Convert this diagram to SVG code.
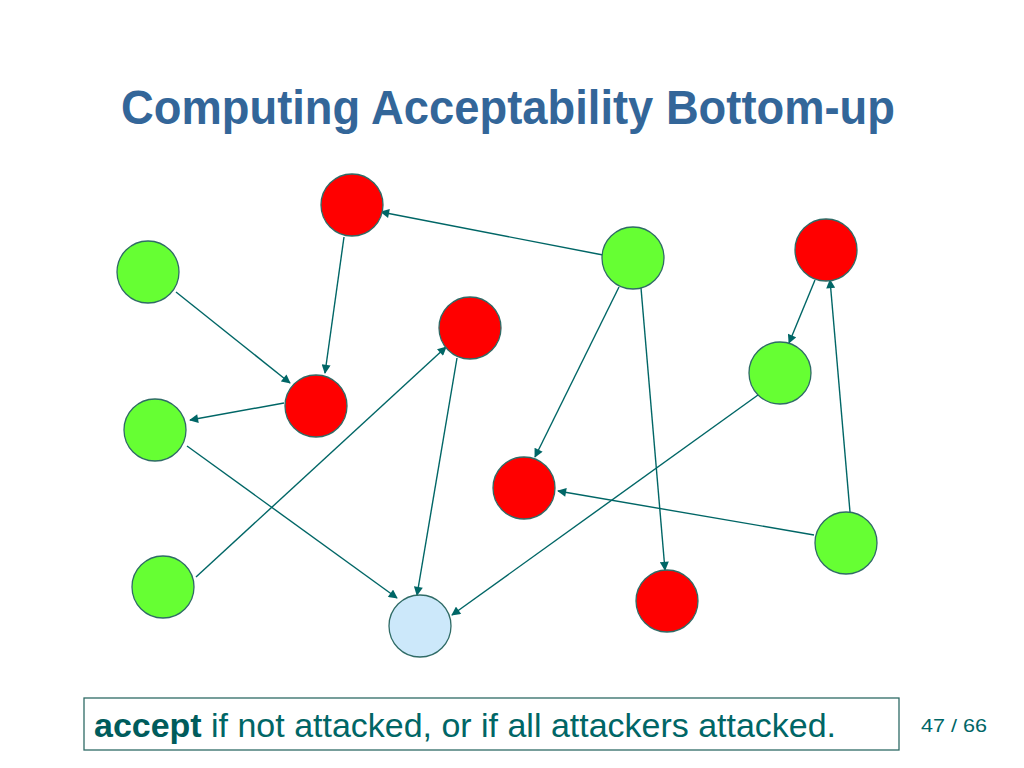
<svg xmlns="http://www.w3.org/2000/svg" width="1024" height="768" viewBox="0 0 1024 768">
<style>
.n{stroke:#2f6b66;stroke-width:1.3}
.r{fill:#ff0000}
.g{fill:#66ff33}
.b{fill:#cce8fa}
.e{stroke:#006666;stroke-width:1.4;fill:none;marker-end:url(#ah)}
.t{font-family:"Liberation Sans",Arial,sans-serif}
</style>
<defs>
<marker id="ah" viewBox="0 0 10 10" refX="9" refY="5" markerWidth="10" markerHeight="9" markerUnits="userSpaceOnUse" orient="auto">
<path d="M0,0 L10,5 L0,10 z" fill="#006666"/>
</marker>
</defs>
<rect width="1024" height="768" fill="#ffffff"/>
<text class="t" x="508" y="124" text-anchor="middle" font-size="49" font-weight="bold" fill="#336699" textLength="774" lengthAdjust="spacingAndGlyphs">Computing Acceptability Bottom-up</text>
<g id="edges">
<line class="e" x1="603" y1="255" x2="381" y2="212"/>
<line class="e" x1="344" y1="237" x2="325" y2="373"/>
<line class="e" x1="176" y1="292" x2="290" y2="383"/>
<line class="e" x1="284" y1="403" x2="190" y2="420"/>
<line class="e" x1="187" y1="446" x2="397" y2="598"/>
<line class="e" x1="196" y1="577" x2="446" y2="347"/>
<line class="e" x1="457" y1="358" x2="417" y2="595"/>
<line class="e" x1="619" y1="287" x2="535" y2="457"/>
<line class="e" x1="641" y1="288" x2="665" y2="570"/>
<line class="e" x1="815" y1="280" x2="789" y2="343"/>
<line class="e" x1="850" y1="512" x2="830" y2="280"/>
<line class="e" x1="814" y1="535" x2="558" y2="491"/>
<line class="e" x1="758" y1="395" x2="452" y2="615"/>
</g>
<g id="R1"><circle class="n r" cx="352" cy="205" r="31"/></g>
<g id="G1"><circle class="n g" cx="148" cy="272" r="31"/></g>
<g id="G2"><circle class="n g" cx="633" cy="258" r="31"/></g>
<g id="R2"><circle class="n r" cx="826" cy="250" r="31"/></g>
<g id="R3"><circle class="n r" cx="470" cy="328" r="31"/></g>
<g id="R4"><circle class="n r" cx="316" cy="406" r="31"/></g>
<g id="G3"><circle class="n g" cx="155" cy="430" r="31"/></g>
<g id="G4"><circle class="n g" cx="780" cy="373" r="31"/></g>
<g id="R5"><circle class="n r" cx="524" cy="488" r="31"/></g>
<g id="G5"><circle class="n g" cx="846" cy="543" r="31"/></g>
<g id="G6"><circle class="n g" cx="163" cy="587" r="31"/></g>
<g id="R6"><circle class="n r" cx="667" cy="601" r="31"/></g>
<g id="B"><circle class="n b" cx="420" cy="626" r="31"/></g>
<g id="note">
<rect x="84" y="698" width="815" height="52" fill="#ffffff" stroke="#2f6b66" stroke-width="1.3"/>
<text class="t" x="94" y="737" font-size="33" fill="#006666" textLength="742" lengthAdjust="spacingAndGlyphs"><tspan font-weight="bold" fill="#005c5c">accept</tspan> if not attacked, or if all attackers attacked.</text>
</g>
<text class="t" x="921" y="732" font-size="18" fill="#006666" textLength="66" lengthAdjust="spacingAndGlyphs">47 /  66</text>
</svg>
